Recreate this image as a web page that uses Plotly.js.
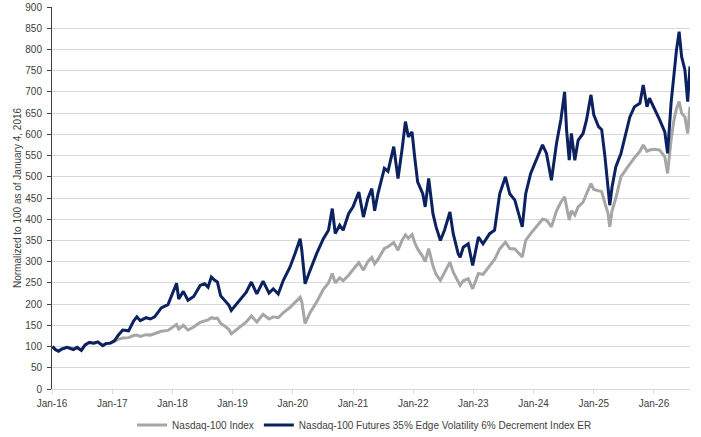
<!DOCTYPE html>
<html>
<head>
<meta charset="utf-8">
<script src="https://cdn.plot.ly/plotly-3.0.1.min.js"></script>
<style>
  html, body { margin: 0; padding: 0; background: #fff; }
  #chart { width: 701px; height: 437px; }
</style>
</head>
<body>
<div id="chart"></div>
<script>
// values (normalized, Jan 4 2016 = 100)
const dates = [
  '2016-01-04', '2016-01-20', '2016-02-10', '2016-03-01', '2016-04-01', '2016-04-20',
  '2016-05-10', '2016-06-01', '2016-06-27', '2016-07-20', '2016-08-15', '2016-09-10',
  '2016-10-05', '2016-11-04', '2016-11-25', '2016-12-20', '2017-01-15', '2017-02-05',
  '2017-03-05', '2017-04-10', '2017-05-10', '2017-05-30', '2017-06-20', '2017-07-25',
  '2017-08-20', '2017-09-15', '2017-10-25', '2017-12-05', '2018-01-15', '2018-01-26',
  '2018-02-08', '2018-03-08', '2018-04-05', '2018-05-10', '2018-06-18', '2018-07-15',
  '2018-08-05', '2018-08-25', '2018-09-15', '2018-10-01', '2018-10-20', '2018-11-15',
  '2018-12-10', '2018-12-24', '2019-02-10', '2019-03-25', '2019-04-25', '2019-05-28',
  '2019-07-05', '2019-08-10', '2019-09-05', '2019-10-05', '2019-11-05', '2019-12-15',
  '2020-01-15', '2020-02-15', '2020-02-25', '2020-03-16', '2020-04-15', '2020-05-25',
  '2020-07-05', '2020-08-05', '2020-08-28', '2020-09-15', '2020-10-12', '2020-11-02',
  '2020-12-05', '2021-01-01', '2021-02-05', '2021-03-05', '2021-04-01', '2021-04-25',
  '2021-05-12', '2021-06-01', '2021-07-10', '2021-08-01', '2021-09-05', '2021-10-01',
  '2021-10-25', '2021-11-15', '2021-12-03', '2021-12-25', '2022-01-10', '2022-01-28',
  '2022-02-28', '2022-03-15', '2022-04-05', '2022-05-01', '2022-05-20', '2022-06-15',
  '2022-07-10', '2022-08-12', '2022-09-01', '2022-10-01', '2022-10-13', '2022-11-01',
  '2022-12-01', '2022-12-28', '2023-02-01', '2023-03-01', '2023-04-10', '2023-05-10',
  '2023-06-10', '2023-07-15', '2023-08-10', '2023-09-10', '2023-10-25', '2023-11-15',
  '2023-12-15', '2024-01-20', '2024-02-25', '2024-03-20', '2024-04-19', '2024-05-20',
  '2024-06-15', '2024-07-08', '2024-07-20', '2024-08-05', '2024-08-18', '2024-09-08',
  '2024-09-28', '2024-10-28', '2024-11-18', '2024-12-15', '2025-01-01', '2025-01-30',
  '2025-02-18', '2025-03-10', '2025-03-28', '2025-04-08', '2025-04-22', '2025-05-15',
  '2025-06-15', '2025-07-20', '2025-08-08', '2025-09-05', '2025-10-08', '2025-10-28',
  '2025-11-20', '2025-12-05', '2026-01-05', '2026-02-05', '2026-03-08', '2026-03-25',
  '2026-04-15', '2026-05-01', '2026-05-18', '2026-06-03', '2026-06-18', '2026-07-08',
  '2026-07-25', '2026-08-08'
];

const ndx = [
  100, 94, 90, 95, 98, 97,
  94, 98, 92, 104, 109, 108,
  110, 103, 107, 108, 112, 117,
  120, 121, 126, 127, 124, 128,
  127, 130, 136, 138, 148, 152,
  141, 150, 139, 146, 157, 160,
  163, 168, 166, 167, 155, 148,
  140, 130, 145, 158, 172, 158,
  176, 165, 170, 168, 180, 192,
  204, 216, 205, 154, 180, 205,
  235, 250, 272, 250, 262, 255,
  268, 280, 298, 280, 300, 310,
  295, 305, 331, 335, 345, 327,
  350, 363, 355, 364, 345, 330,
  312, 300, 331, 290, 270, 256,
  275, 299, 275, 250, 244, 255,
  260, 236, 272, 270, 291, 305,
  330, 346, 331, 330, 311, 350,
  366, 382, 400, 398, 382, 420,
  440, 453, 425, 398, 420, 410,
  429, 440, 460, 484, 470, 468,
  465, 437, 415, 382, 420, 450,
  500, 520, 531, 545, 560, 575,
  560, 563, 565, 563, 547, 508,
  586, 630, 661, 677, 650, 641,
  602, 665
];

const edgeVol = [
  100, 93, 89, 94, 98, 96,
  93, 98, 91, 104, 110, 108,
  111, 102, 107, 108, 114, 126,
  139, 137, 160, 170, 161, 168,
  165, 170, 191, 199, 236, 249,
  212, 230, 209, 218, 244, 248,
  240, 264, 256, 252, 220, 209,
  197, 185, 209, 228, 252, 224,
  254, 226, 236, 224, 256, 287,
  319, 354, 327, 248, 279, 319,
  354, 374, 425, 366, 386, 374,
  413, 429, 464, 405, 449, 472,
  420, 460, 520, 513, 571, 496,
  563, 630, 594, 606, 547, 488,
  460, 429, 496, 413, 382, 350,
  374, 417, 366, 319, 310, 334,
  342, 291, 358, 342, 366, 374,
  460, 500, 460, 445, 382, 460,
  508, 543, 575, 555, 492, 579,
  634, 700, 610, 539, 602, 539,
  586, 602, 634, 693, 646, 618,
  611, 547, 476, 433, 476, 524,
  555, 610, 641, 665, 673, 716,
  665, 685, 661, 634, 606, 555,
  673, 736, 799, 842, 783, 752,
  677, 760
];

const tickDates = ['2016-01-01', '2017-01-01', '2018-01-01', '2019-01-01', '2020-01-01', '2021-01-01',
                   '2022-01-01', '2023-01-01', '2024-01-01', '2025-01-01', '2026-01-01'];
const tickLabels = ['Jan-16', 'Jan-17', 'Jan-18', 'Jan-19', 'Jan-20', 'Jan-21',
                    'Jan-22', 'Jan-23', 'Jan-24', 'Jan-25', 'Jan-26'];

const traces = [
  {
    x: dates, y: ndx, type: 'scatter', mode: 'lines',
    name: 'Nasdaq-100 Index',
    line: { color: '#a6a6a6', width: 3 }
  },
  {
    x: dates, y: edgeVol, type: 'scatter', mode: 'lines',
    name: 'Nasdaq-100 Futures 35% Edge Volatility 6% Decrement Index ER',
    line: { color: '#0c2260', width: 3 }
  }
];

const layout = {
  width: 701,
  height: 437,
  margin: { l: 52, r: 11, t: 7, b: 48, autoexpand: false },
  paper_bgcolor: '#ffffff',
  plot_bgcolor: '#ffffff',
  font: { family: '"Liberation Sans", Arial, sans-serif', size: 10, color: '#404040' },
  showlegend: true,
  legend: {
    orientation: 'h',
    x: 0.49, xanchor: 'center',
    y: -0.094, yanchor: 'middle',
    font: { size: 10, color: '#404040' },
    itemwidth: 30,
    traceorder: 'normal'
  },
  xaxis: {
    type: 'date',
    range: ['2016-01-01', '2026-08-08'],
    tickvals: tickDates,
    ticktext: tickLabels,
    showgrid: false,
    showline: true,
    linecolor: '#d9d9d9',
    linewidth: 1,
    ticks: 'outside',
    ticklen: 4,
    tickcolor: '#d9d9d9',
    ticklabelstandoff: 1,
    zeroline: false
  },
  yaxis: {
    range: [0, 900],
    dtick: 50,
    tick0: 0,
    showgrid: true,
    gridcolor: '#d9d9d9',
    gridwidth: 1,
    showline: true,
    linecolor: '#404040',
    linewidth: 1,
    ticks: 'outside',
    ticklen: 4,
    tickcolor: '#404040',
    ticklabelstandoff: 3,
    zeroline: false,
    title: { text: 'Normalized to 100 as of January 4, 2016', font: { size: 10, color: '#404040' }, standoff: 1 }
  }
};

Plotly.newPlot('chart', traces, layout, { displayModeBar: false, staticPlot: true });
</script>
</body>
</html>
